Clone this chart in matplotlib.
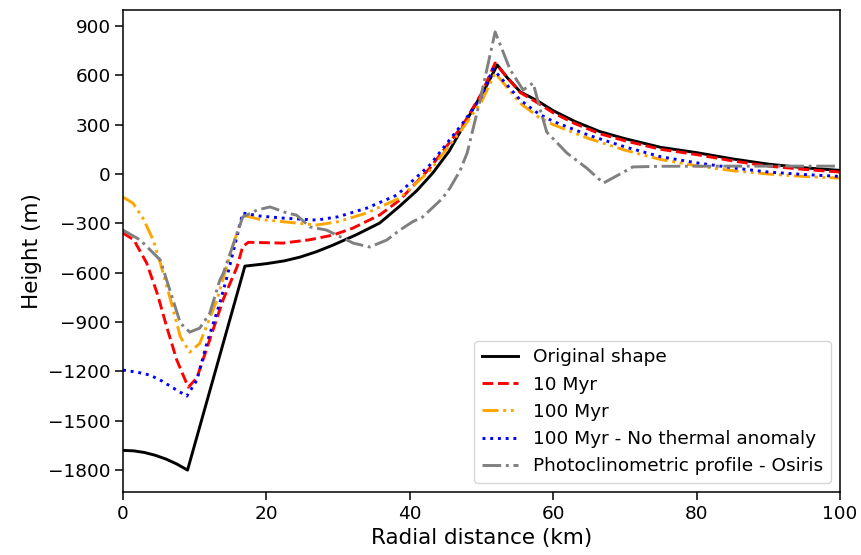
import matplotlib
matplotlib.use("Agg")
import matplotlib.pyplot as plt

# ---------------------------------------------------------------------------
# Data (radial distance in km, height in m)
# ---------------------------------------------------------------------------
orig_x = [0, 1.5, 3, 4.5, 6, 7.5, 9, 17, 20, 22.5, 24.7, 27, 29.3, 32.5,
          35.8, 38.6, 41, 43.2, 45.5, 47.4, 49, 50.5, 52.2, 53.5, 55.4, 58,
          60, 63, 66.5, 70, 75, 80, 85, 90, 95, 100]
orig_y = [-1680, -1683, -1693, -1710, -1733, -1763, -1800, -560, -545, -528,
          -505, -472, -432, -370, -298, -195, -100, 6, 140, 286, 410, 520,
          663, 590, 500, 440, 385, 320, 258, 215, 162, 130, 92, 60, 38, 22]

myr10_x = [0, 1.5, 3.3, 4.8, 6.1, 7.5, 9.1, 10.3, 12, 14, 15.9, 16.7, 17.5,
           22.3, 26, 29.3, 32, 35.8, 38.6, 42.8, 47.4, 50, 51.9, 55.4, 58,
           60, 63, 66.5, 70, 75, 80, 85, 90, 95, 100]
myr10_y = [-359, -400, -541, -730, -930, -1131, -1296, -1240, -1020, -760,
           -565, -440, -415, -420, -400, -371, -330, -249, -158, 36, 298,
           490, 675, 495, 428, 372, 307, 245, 202, 150, 118, 80, 48, 28, 12]

myr100_x = [0, 1.4, 2.8, 4.2, 5.2, 6.6, 8, 9.3, 10.7, 13.1, 15, 16.7, 19,
            22.3, 27, 30, 34, 38.6, 42.8, 47.4, 50, 51.9, 55.4, 58, 60, 65,
            70, 75, 80, 85, 90, 95, 100]
myr100_y = [-140, -178, -270, -400, -541, -760, -990, -1083, -1030, -766,
            -480, -250, -275, -290, -310, -290, -237, -146, 20, 280, 440,
            614, 430, 345, 300, 215, 145, 88, 50, 20, 0, -15, -25]

notherm_x = [0, 2, 3.8, 5.5, 7, 8.9, 10.3, 11.7, 13.5, 14.5, 16.7, 19, 22.3,
             27, 30, 34, 38.2, 42.8, 47.4, 50, 51.6, 55.4, 58, 60, 65, 70,
             75, 80, 85, 90, 95, 100]
notherm_y = [-1192, -1205, -1223, -1260, -1301, -1350, -1253, -1028, -785,
             -626, -237, -255, -268, -280, -260, -207, -128, 55, 310, 470,
             639, 450, 365, 320, 235, 165, 105, 68, 38, 12, -3, -15]

osiris_x = [0, 2.4, 5.2, 8, 9.3, 10.7, 12.1, 13.5, 14, 16.7, 18.7, 20.5,
            22.9, 24.2, 26.1, 28.4, 32.1, 34.4, 36.8, 38.6, 40.4, 41.8,
            44.5, 45.6, 47, 48, 49.8, 51.9, 54, 55.8, 57.2, 58.2, 59.1,
            61.9, 64.7, 67, 68.9, 71.1, 75, 85, 100]
osiris_y = [-341, -401, -523, -906, -961, -937, -846, -645, -602, -261,
            -219, -200, -237, -250, -322, -341, -420, -444, -401, -341,
            -290, -261, -150, -85, 20, 128, 450, 864, 633, 511, 553, 390,
            255, 128, 35, -55, -10, 43, 47, 48, 48]

labels = ["Original shape", "10 Myr", "100 Myr",
          "100 Myr - No thermal anomaly", "Photoclinometric profile - Osiris"]

# ---------------------------------------------------------------------------
# Plot
# ---------------------------------------------------------------------------
plt.rcParams["font.family"] = "DejaVu Sans"

fig = plt.figure(figsize=(8.62, 5.55), dpi=100)
ax = fig.add_axes([0.1427, 0.1135, 0.8318, 0.8685])

lw = 2.1
ax.plot(orig_x, orig_y, color="black", linestyle="-", linewidth=lw,
        label=labels[0])
ax.plot(myr10_x, myr10_y, color="red", linestyle="--", linewidth=lw,
        label=labels[1])
ax.plot(myr100_x, myr100_y, color="orange", linewidth=lw,
        dashes=(5.5, 1.6, 1, 1.6, 1, 1.6), label=labels[2])
ax.plot(notherm_x, notherm_y, color="blue", linestyle=":", linewidth=lw,
        label=labels[3])
ax.plot(osiris_x, osiris_y, color="gray", linestyle="-.", linewidth=lw,
        label=labels[4])

ax.set_xlim(0, 100)
ax.set_yticks(range(-1800, 901, 300))
ax.set_xlabel("Radial distance (km)", fontsize=15.5)
ax.set_ylabel("Height (m)", fontsize=15.5)
ax.tick_params(labelsize=13.3, length=5.5, width=1.1)
for sp in ax.spines.values():
    sp.set_linewidth(1.1)

ax.legend(loc="lower right", fontsize=13.3, handlelength=2.0)

fig.savefig("out.png", dpi=100)
